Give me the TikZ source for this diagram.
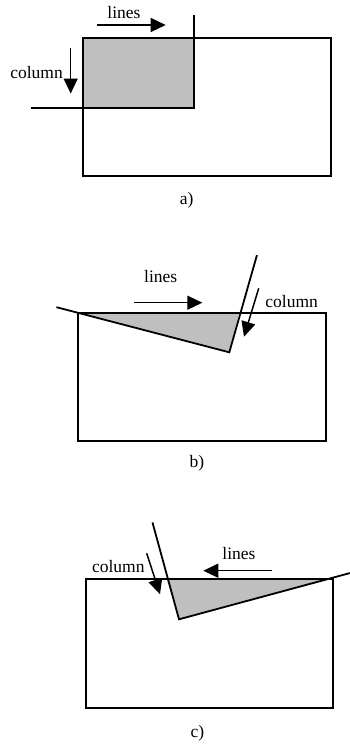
\documentclass[tikz,border=0pt]{standalone}
\usepackage{fontspec}
\setmainfont{Liberation Serif}
\usetikzlibrary{arrows.meta}
\begin{document}
\begin{tikzpicture}[x=1pt,y=-1pt,
  edge/.style={line width=1.8pt, line cap=rect},
  region/.style={fill=black!25, draw=none},
  motion/.style={line width=1.5pt, -{Triangle[length=15pt,width=14pt]}},
  lbl/.style={font=\fontsize{17.5}{20}\selectfont, inner sep=0pt}]
\useasboundingbox (0,0) rectangle (349,744);
% ---------- a)
\fill[region] (83.3,37.7) rectangle (194,107.7);
\draw[edge] (83.3,37.7) rectangle (330.7,175.7);
\coordinate (aT) at (194,16);
\coordinate (aC) at (194,107.7);
\coordinate (aL) at (32.3,107.7);
\draw[edge] (aT) -- (aC) -- (aL);
\coordinate (aL1) at (97,25); \coordinate (aL2) at (165.7,25);
\draw[motion] (aL1) -- (aL2);
\node[lbl] (alines) at (124,13) {lines};
\coordinate (aC1) at (70.7,48); \coordinate (aC2) at (70.7,93.5);
\draw[motion] (aC1) -- (aC2);
\node[lbl, anchor=east] (acol) at (63,73) {column};
\node[lbl] (acap) at (186.7,200) {a)};
% ---------- b)
\fill[region] (77.7,312.7) -- (229.3,352.3) -- (239,312.7) -- cycle;
\draw[edge] (77.7,312.7) rectangle (325.7,441);
\coordinate (bA) at (57.3,307.4);
\coordinate (bV) at (229.3,352.3);
\coordinate (bB) at (256.7,256);
\draw[edge, line join=miter] (bA) -- (bV) -- (bB);
\coordinate (bL1) at (134,302.7); \coordinate (bL2) at (202.3,302.7);
\draw[motion] (bL1) -- (bL2);
\node[lbl] (blines) at (160.7,276.5) {lines};
\coordinate (bC1) at (258.7,288.3); \coordinate (bC2) at (244,336.7);
\draw[motion] (bC1) -- (bC2);
\node[lbl] (bcol) at (291.7,301.5) {column};
\node[lbl] (bcap) at (197,463) {b)};
% ---------- c)
\fill[region] (166.7,579) -- (179,619.3) -- (331.7,579) -- cycle;
\draw[edge] (85.7,579) rectangle (333.3,708);
\coordinate (cA) at (152.7,523.3);
\coordinate (cV) at (179,619.3);
\coordinate (cB) at (349,573.3);
\draw[edge, line join=miter] (cA) -- (cV) -- (cB);
\coordinate (cL1) at (271.7,570.7); \coordinate (cL2) at (203.3,570.7);
\draw[motion] (cL1) -- (cL2);
\node[lbl] (clines) at (239,553.3) {lines};
\coordinate (cC1) at (146.7,553.3); \coordinate (cC2) at (160,594.3);
\draw[motion] (cC1) -- (cC2);
\node[lbl] (ccol) at (118.3,567) {column};
\node[lbl] (ccap) at (197.3,733.3) {c)};
\end{tikzpicture}
\end{document}
